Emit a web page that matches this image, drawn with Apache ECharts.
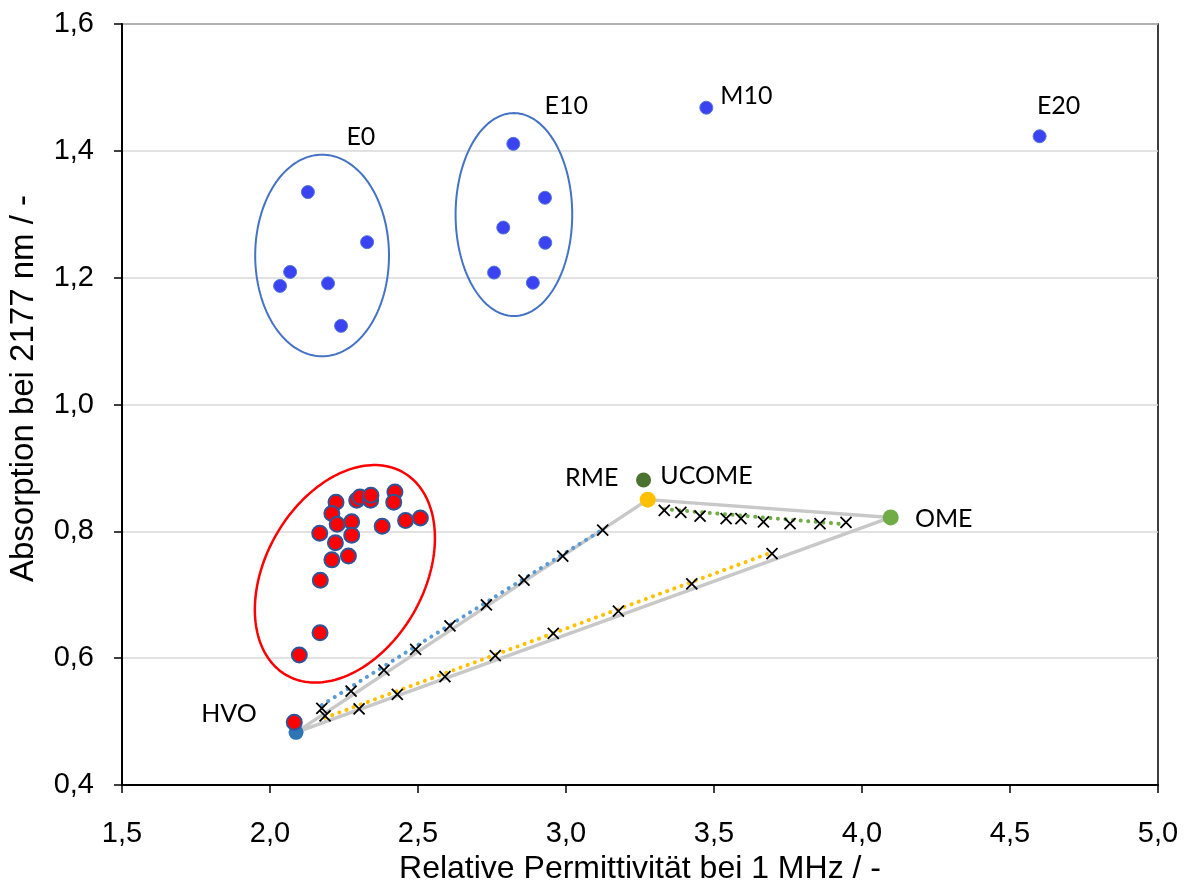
<!DOCTYPE html>
<html><head><meta charset="utf-8">
<script src="https://cdn.jsdelivr.net/npm/echarts@6/dist/echarts.min.js"></script>
<style>html,body{margin:0;padding:0;background:#fff}#c{width:1188px;height:881px}</style>
</head><body><div id="c"></div>
<script>
// ---------- data ----------
const e0X  = [2.128, 2.328, 2.068, 2.034, 2.196, 2.240];
const e0Y  = [1.335, 1.256, 1.209, 1.187, 1.191, 1.124];
const e10X = [2.822, 2.929, 2.788, 2.930, 2.757, 2.888];
const e10Y = [1.411, 1.326, 1.279, 1.255, 1.208, 1.192];
const m10  = [3.474, 1.468];
const e20  = [4.600, 1.423];

const redX = [2.223, 2.293, 2.304, 2.340, 2.341, 2.422, 2.418, 2.209, 2.227, 2.276, 2.379,
              2.458, 2.508, 2.168, 2.276, 2.221, 2.209, 2.265, 2.170, 2.169, 2.099, 2.082];
const redY = [0.846, 0.849, 0.854, 0.849, 0.857, 0.862, 0.846, 0.828, 0.811, 0.815, 0.808,
              0.817, 0.821, 0.797, 0.794, 0.782, 0.755, 0.761, 0.723, 0.640, 0.605, 0.499];

const hvo   = [2.088, 0.483];
const rme   = [3.276, 0.850];
const ucome = [3.262, 0.881];
const ome   = [4.097, 0.822];

const blendBlueX   = [2.175, 2.274, 2.385, 2.492, 2.608, 2.731, 2.858, 2.989, 3.124];
const blendBlueY   = [0.521, 0.548, 0.581, 0.614, 0.651, 0.684, 0.723, 0.761, 0.802];
const blendYellowX = [2.186, 2.301, 2.430, 2.591, 2.761, 2.957, 3.177, 3.425, 3.696];
const blendYellowY = [0.509, 0.520, 0.543, 0.571, 0.604, 0.639, 0.674, 0.717, 0.765];
const blendGreenX  = [3.332, 3.388, 3.453, 3.541, 3.591, 3.667, 3.757, 3.858, 3.946];
const blendGreenY  = [0.833, 0.830, 0.824, 0.820, 0.820, 0.815, 0.812, 0.812, 0.814];

// trend lines (start / end)
const trendBlueX   = [2.175, 3.124], trendBlueY   = [0.526, 0.803];
const trendYellowX = [2.186, 3.696], trendYellowY = [0.506, 0.767];
const trendGreenX  = [3.332, 3.946], trendGreenY  = [0.835, 0.811];

// cluster ellipses: centre x, centre y, half-width (x units), half-height (y units), tilt (deg)
const ellCX  = [2.176, 2.824, 2.253];
const ellCY  = [1.235, 1.2995, 0.733];
const ellRX  = [0.226, 0.197, 0.267];
const ellRY  = [0.159, 0.160, 0.1845];
const ellRot = [0, 0, 30];

const xMin = 1.5, xMax = 5.0, xStep = 0.5;
const yMin = 0.4, yMax = 1.6, yStep = 0.2;

// ---------- helpers ----------
const zip = (a, b) => a.map((v, i) => [v, b[i]]);
const fmt = v => v.toFixed(1).replace('.', ',');
const LBL = {fontFamily: 'Lato', fontSize: 25, color: '#000', opacity: 1};
const lab = (text, dx, dy) => ({show: true, position: 'inside', formatter: text, offset: [dx, dy], ...LBL});

const ellColors = ['#4472C4', '#4472C4', '#FF0000'];
const ellWidths = [2, 2, 2.5];

const crossPath = 'path://M0,0L10,10M10,0L0,10';
const crossSeries = (x, y) => ({
  type: 'scatter', data: zip(x, y), symbol: crossPath, symbolSize: 11, z: 6,
  itemStyle: {color: 'rgba(0,0,0,0)', borderColor: '#000', borderWidth: 1.8, opacity: 1}, silent: true
});
const trendSeries = (x, y, c) => ({
  type: 'line', data: zip(x, y), showSymbol: false, symbol: 'none', z: 5, silent: true,
  lineStyle: {color: c, width: 4, type: [0.1, 7.5], cap: 'round', opacity: 1}
});

const blueStyle = {color: '#3A42F2', borderColor: '#5578D4', borderWidth: 1, opacity: 1};

const e0Data = zip(e0X, e0Y).map((p, i) => i === 0 ? {value: p, label: lab('E0', 53, -55)} : p);
const e10Data = zip(e10X, e10Y).map((p, i) => i === 0 ? {value: p, label: lab('E10', 53, -38)} : p);

const chart = echarts.init(document.getElementById('c'), null, {renderer: 'canvas'});
chart.setOption({
  animation: false,
  backgroundColor: '#fff',
  grid: {left: 122, right: 30, top: 24, bottom: 96, show: true, borderColor: '#000', borderWidth: 1.5,
         containLabel: false, outerBoundsMode: 'none'},
  xAxis: {
    type: 'value', min: xMin, max: xMax, interval: xStep,
    name: 'Relative Permittivität bei 1 MHz / -', nameLocation: 'middle', nameGap: 61,
    nameTextStyle: {fontFamily: 'Liberation Sans', fontSize: 32, color: '#000'},
    axisLine: {show: true, lineStyle: {color: '#000', width: 2}},
    axisTick: {show: true, inside: false, length: 8, lineStyle: {color: '#000', width: 1.5}},
    axisLabel: {formatter: fmt, fontFamily: 'Liberation Sans', fontSize: 29, color: '#000', margin: 34},
    splitLine: {show: false}
  },
  yAxis: {
    type: 'value', min: yMin, max: yMax, interval: yStep,
    name: 'Absorption bei 2177 nm / -', nameLocation: 'middle', nameGap: 82, nameRotate: 90,
    nameTextStyle: {fontFamily: 'Liberation Sans', fontSize: 33, color: '#000', padding: [0, 0, 0, 32]},
    axisLine: {show: true, lineStyle: {color: '#000', width: 2}},
    axisTick: {show: true, inside: false, length: 8, lineStyle: {color: '#000', width: 1.5}},
    axisLabel: {formatter: fmt, fontFamily: 'Liberation Sans', fontSize: 29, color: '#000', margin: 28},
    splitLine: {show: true, lineStyle: {color: '#D9D9D9', width: 1.5}}
  },
  series: [
    {
      type: 'custom', silent: true, z: 3, clip: false,
      data: ellCX.map((v, i) => [v, ellCY[i], ellRX[i], ellRY[i], ellRot[i]]),
      encode: {x: 0, y: 1},
      renderItem: function (params, api) {
        const c = api.coord([api.value(0), api.value(1)]);
        const s = api.size([api.value(2), api.value(3)]);
        const rx = Math.abs(s[0]), ry = Math.abs(s[1]);
        const r = api.value(4) * Math.PI / 180;
        const pts = [];
        for (let k = 0; k <= 180; k++) {
          const t = k / 180 * 2 * Math.PI;
          const x = rx * Math.cos(t), y = ry * Math.sin(t);
          pts.push([c[0] + x * Math.cos(r) - y * Math.sin(r), c[1] + x * Math.sin(r) + y * Math.cos(r)]);
        }
        return {type: 'polyline', shape: {points: pts},
          style: {fill: null, stroke: ellColors[params.dataIndex], lineWidth: ellWidths[params.dataIndex]}};
      }
    },
    {
      type: 'line', data: [hvo, rme, ome, hvo], symbol: 'none', z: 4, silent: true,
      lineStyle: {color: '#C8C8C8', width: 3.5, opacity: 1}
    },
    trendSeries(trendBlueX, trendBlueY, '#5B9BD5'),
    trendSeries(trendYellowX, trendYellowY, '#FFC000'),
    trendSeries(trendGreenX, trendGreenY, '#70AD47'),
    crossSeries(blendBlueX, blendBlueY),
    crossSeries(blendYellowX, blendYellowY),
    crossSeries(blendGreenX, blendGreenY),
    {type: 'scatter', data: e0Data, symbolSize: 13, itemStyle: blueStyle, z: 7},
    {type: 'scatter', data: e10Data, symbolSize: 13, itemStyle: blueStyle, z: 7},
    {type: 'scatter', data: [{value: m10, label: lab('M10', 40, -12)}, {value: e20, label: lab('E20', 19, -30)}],
      symbolSize: 13, itemStyle: blueStyle, z: 7},
    {type: 'scatter', data: [{value: hvo, label: lab('HVO', -67, -18)}], symbolSize: 15,
      itemStyle: {color: '#2E75B6', opacity: 1}, z: 7},
    {type: 'scatter', data: [{value: rme, label: lab('RME', -56, -22)}], symbolSize: 16,
      itemStyle: {color: '#FFC000', opacity: 1}, z: 7},
    {type: 'scatter', data: [{value: ucome, label: lab('UCOME', 63, -4)}], symbolSize: 15,
      itemStyle: {color: '#4B7230', opacity: 1}, z: 7},
    {type: 'scatter', data: [{value: ome, label: lab('OME', 53, 2)}], symbolSize: 16,
      itemStyle: {color: '#70AD47', opacity: 1}, z: 7},
    {type: 'scatter', data: zip(redX, redY), symbolSize: 15,
      itemStyle: {color: '#FF0000', borderColor: '#2F5597', borderWidth: 2, opacity: 1}, z: 8}
  ]
});
</script></body></html>
